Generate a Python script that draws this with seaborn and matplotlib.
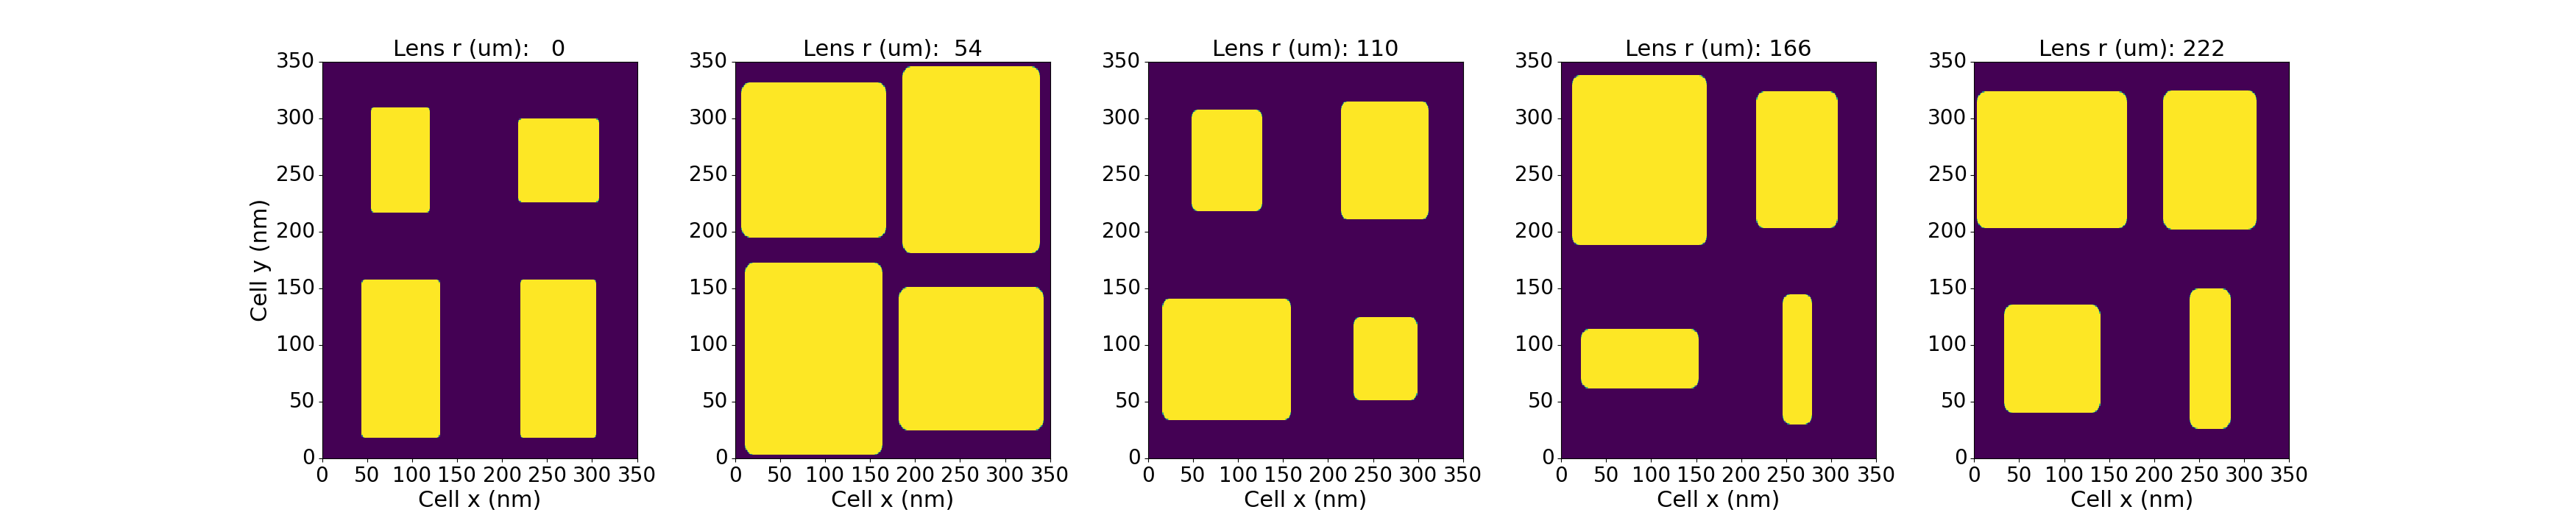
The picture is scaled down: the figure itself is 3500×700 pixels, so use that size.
import numpy as np
import matplotlib
matplotlib.use("Agg")
import matplotlib.pyplot as plt
import seaborn as sns

# lens radius for each panel (um)
LENS_R = [0, 54, 110, 166, 222]

# block extents per panel (nm), order: top-left, top-right, bottom-left, bottom-right
RECT_X = [
    [(54, 120), (218, 308), (44, 131), (220, 305)],
    [(7, 168), (186, 339), (11, 164), (182, 343)],
    [(48, 127), (214, 312), (16, 159), (228, 299)],
    [(12, 162), (217, 307), (22, 153), (246, 279)],
    [(3, 170), (210, 314), (33, 140), (239, 285)],
]
RECT_Y = [
    [(217, 310), (226, 300), (18, 158), (18, 158)],
    [(195, 332), (181, 346), (3, 173), (25, 151)],
    [(218, 308), (211, 315), (34, 141), (51, 125)],
    [(188, 338), (203, 324), (62, 114), (30, 145)],
    [(203, 324), (202, 325), (40, 136), (26, 150)],
]
CORNER_R = [4, 10, 8, 9, 10]

CELL = 350
TICKS = list(range(0, 351, 50))

plt.rcParams["font.size"] = 20
plt.rcParams["font.family"] = ["DejaVu Sans"]


def make_grid(xs, ys, rad):
    c = np.arange(CELL) + 0.5
    px, py = np.meshgrid(c, c)
    grid = np.zeros((CELL, CELL))
    for (x0, x1), (y0, y1) in zip(xs, ys):
        cx, cy = (x0 + x1) / 2, (y0 + y1) / 2
        hx, hy = (x1 - x0) / 2 - rad, (y1 - y0) / 2 - rad
        qx = np.abs(px - cx) - hx
        qy = np.abs(py - cy) - hy
        out = np.hypot(np.maximum(qx, 0), np.maximum(qy, 0))
        inside = np.minimum(np.maximum(qx, qy), 0)
        sdf = out + inside - rad
        grid = np.maximum(grid, np.clip(0.5 - sdf, 0, 1))
    return grid


fig, axes = plt.subplots(1, 5, figsize=(35, 7), dpi=100)
for i, ax in enumerate(axes):
    grid = make_grid(RECT_X[i], RECT_Y[i], CORNER_R[i])
    sns.heatmap(grid, ax=ax, cmap="viridis", vmin=0, vmax=1, cbar=False)
    ax.set_ylim(0, CELL)
    ax.set_xlim(0, CELL)
    ax.set_xticks(TICKS, [str(t) for t in TICKS], rotation=0)
    ax.set_yticks(TICKS, [str(t) for t in TICKS], rotation=0)
    ax.tick_params(left=True, bottom=True, length=3.5, width=0.8, labelsize=20)
    for s in ax.spines.values():
        s.set_visible(True)
        s.set_color("black")
        s.set_linewidth(0.8)
    ax.set_aspect(539 / 428, adjustable="box", anchor="W")
    ax.set_title(f"Lens r (um): {LENS_R[i]:3d}", fontsize=22)
    ax.set_xlabel("Cell x (nm)", fontsize=22)
    if i == 0:
        ax.set_ylabel("Cell y (nm)", fontsize=22)

plt.savefig("out.png", dpi=100)
